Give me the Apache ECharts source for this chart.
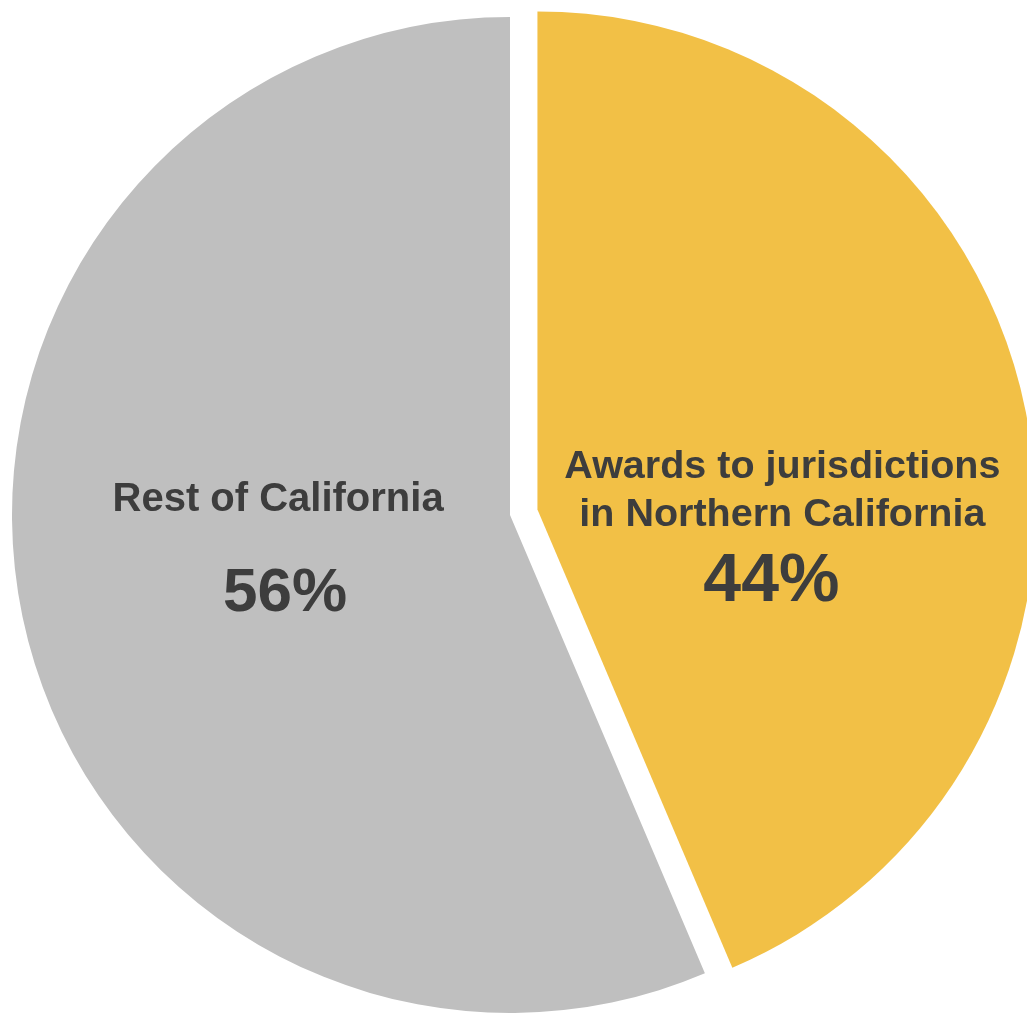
<!DOCTYPE html>
<html>
<head>
<meta charset="utf-8">
<script src="https://cdn.jsdelivr.net/npm/echarts@6/dist/echarts.min.js"></script>
<style>
html,body{margin:0;padding:0;background:#fff;}
#chart{width:1027px;height:1015px;}
</style>
</head>
<body>
<div id="chart"></div>
<script>
const categories = ['Awards to jurisdictions\nin Northern California', 'Rest of California'];
const shares = [43.6, 56.4];
const pctLabels = ['44%', '56%'];
const colors = ['#f2c046', '#bfbfbf'];

const chart = echarts.init(document.getElementById('chart'), null, {renderer: 'canvas'});
const textColor = '#3d3d3d';
const font = '"Liberation Sans", Arial, Helvetica, sans-serif';

const data = [
  {
    name: categories[0], value: shares[0], selected: true,
    itemStyle: {color: colors[0]},
    label: {
      formatter: function (p) {
        return p.name.split('\n').map(s => '{n|' + s + '}').join('\n') + '\n{p|' + pctLabels[p.dataIndex] + '}';
      },
      padding: [150, 4, 0, 0],
      rich: {
        n: {fontSize: 39.5, fontWeight: 'bold', lineHeight: 48, color: textColor, fontFamily: font},
        p: {fontSize: 68, fontWeight: 'bold', lineHeight: 86, color: textColor, fontFamily: font, padding: [0, 22, 0, 0]}
      }
    }
  },
  {
    name: categories[1], value: shares[1],
    itemStyle: {color: colors[1]},
    label: {
      formatter: function (p) {
        return '{n|' + p.name + '}\n{p|' + pctLabels[p.dataIndex] + '}';
      },
      padding: [18, 0, 0, 30],
      rich: {
        n: {fontSize: 40, fontWeight: 'bold', lineHeight: 40, color: textColor, fontFamily: font},
        p: {fontSize: 62, fontWeight: 'bold', lineHeight: 148, color: textColor, fontFamily: font, padding: [0, 0, 0, 14]}
      }
    }
  }
];

chart.setOption({
  animation: false,
  backgroundColor: '#ffffff',
  series: [{
    type: 'pie',
    center: [510, 515],
    radius: 498,
    startAngle: 90,
    clockwise: true,
    selectedMode: 'single',
    selectedOffset: 28,
    avoidLabelOverlap: false,
    label: {position: 'inside', align: 'center', verticalAlign: 'middle'},
    labelLine: {show: false},
    emphasis: {disabled: true},
    select: {itemStyle: {borderWidth: 0}},
    data: data
  }]
});
</script>
</body>
</html>
